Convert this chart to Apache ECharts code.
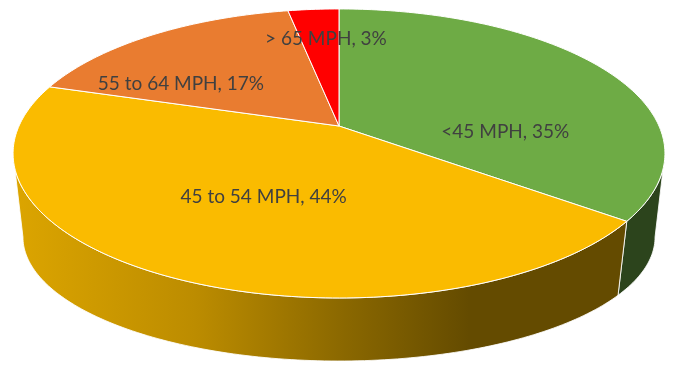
<!DOCTYPE html>
<html>
<head>
<meta charset="utf-8">
<script src="https://cdn.jsdelivr.net/npm/echarts@6/dist/echarts.min.js"></script>
<style>
  html, body { margin: 0; padding: 0; background: #fff; }
  #chart { width: 673px; height: 370px; }
</style>
</head>
<body>
<div id="chart"></div>
<script>
// 车速分布 - 3D 饼图
const categories = ['<45 MPH', '45 to 54 MPH', '55 to 64 MPH', '> 65 MPH'];
const shares = [35, 44, 17, 3];
const sliceColors = ['#6EAB45', '#FABB00', '#E97C30', '#FF0000'];

// fake 3D: perspective tilt + the two rims of the disc (px)
const TILT = 0.19;
const TOP_RIM = { cx: 339, cy: 126, a: 320, b: 139.3 };
const BOTTOM_RIM = { cx: 339, cy: 213.5, a: 310.3, b: 119.5 };
// labels sit at the slice centroid, shifted a bit like Excel does
const labelNudge = [[6, 25], [-17, -5], [-34, 14], [4, -9]];

const total = shares.reduce((s, v) => s + v, 0);
const bounds = [];
let acc = 0;
shares.forEach(v => {
  bounds.push([acc / total * 360, (acc + v) / total * 360]);
  acc += v;
});

function rimPoint(rim, deg, r) {
  const t = deg * Math.PI / 180;
  const X = Math.sin(t) * (r == null ? 1 : r);
  const Z = -Math.cos(t) * (r == null ? 1 : r);
  const w = 1 / (1 - TILT * Z);
  return [rim.cx + rim.a * X * w, rim.cy + rim.b * Z * w];
}

function arc(rim, from, to) {
  const n = Math.max(2, Math.ceil(Math.abs(to - from)));
  const pts = [];
  for (let i = 0; i <= n; i++) pts.push(rimPoint(rim, from + (to - from) * i / n));
  return pts;
}

function centroid(pts) {
  let a = 0, x = 0, y = 0;
  for (let i = 0; i < pts.length; i++) {
    const p = pts[i], q = pts[(i + 1) % pts.length];
    const c = p[0] * q[1] - q[0] * p[1];
    a += c; x += (p[0] + q[0]) * c; y += (p[1] + q[1]) * c;
  }
  return [x / (3 * a), y / (3 * a)];
}

function shade(hex, f) {
  const n = parseInt(hex.slice(1), 16);
  const r = Math.round(((n >> 16) & 255) * f);
  const g = Math.round(((n >> 8) & 255) * f);
  const b = Math.round((n & 255) * f);
  return `rgb(${r},${g},${b})`;
}

// side wall is only seen between the two silhouette angles
const edgeDeg = Math.acos(TILT) * 180 / Math.PI;
const frontFrom = 180 - edgeDeg;
const frontTo = 180 + edgeDeg;
const leftX = rimPoint(TOP_RIM, frontTo)[0];
const rightX = rimPoint(TOP_RIM, frontFrom)[0];
const wallShade = [[0, 0.88], [0.28, 0.75], [0.5, 0.56], [0.7, 0.40], [1, 0.40]];

function renderItem(params, api) {
  const i = params.dataIndex;
  const [s, e] = bounds[i];
  const color = sliceColors[i];
  const children = [];

  const ws = Math.max(s, frontFrom), we = Math.min(e, frontTo);
  if (we > ws) {
    const pts = arc(TOP_RIM, ws, we).concat(arc(BOTTOM_RIM, we, ws));
    children.push({
      type: 'polygon',
      z2: 1,
      shape: { points: pts },
      style: {
        fill: new echarts.graphic.LinearGradient(leftX, 0, rightX, 0,
          wallShade.map(([o, f]) => ({ offset: o, color: shade(color, f) })), true),
        stroke: 'rgba(255,255,255,0.85)',
        lineWidth: 1
      }
    });
  }

  const face = [[TOP_RIM.cx, TOP_RIM.cy]].concat(arc(TOP_RIM, s, e));
  children.push({
    type: 'polygon',
    z2: 5,
    shape: { points: face },
    style: { fill: color, stroke: '#fff', lineWidth: 1 }
  });

  const c = centroid(face);
  children.push({
    type: 'text',
    z2: 10,
    x: c[0] + labelNudge[i][0],
    y: c[1] + labelNudge[i][1],
    style: {
      text: `${categories[i]}, ${api.value(0)}%`,
      fill: '#404040',
      font: '19px Lato',
      align: 'center',
      verticalAlign: 'middle'
    }
  });

  return { type: 'group', children };
}

const chart = echarts.init(document.getElementById('chart'), null, { renderer: 'canvas' });
chart.setOption({
  animation: false,
  series: [{
    type: 'custom',
    coordinateSystem: 'none',
    silent: true,
    renderItem,
    data: shares.map((v, i) => ({ name: categories[i], value: [v] }))
  }]
});
</script>
</body>
</html>
